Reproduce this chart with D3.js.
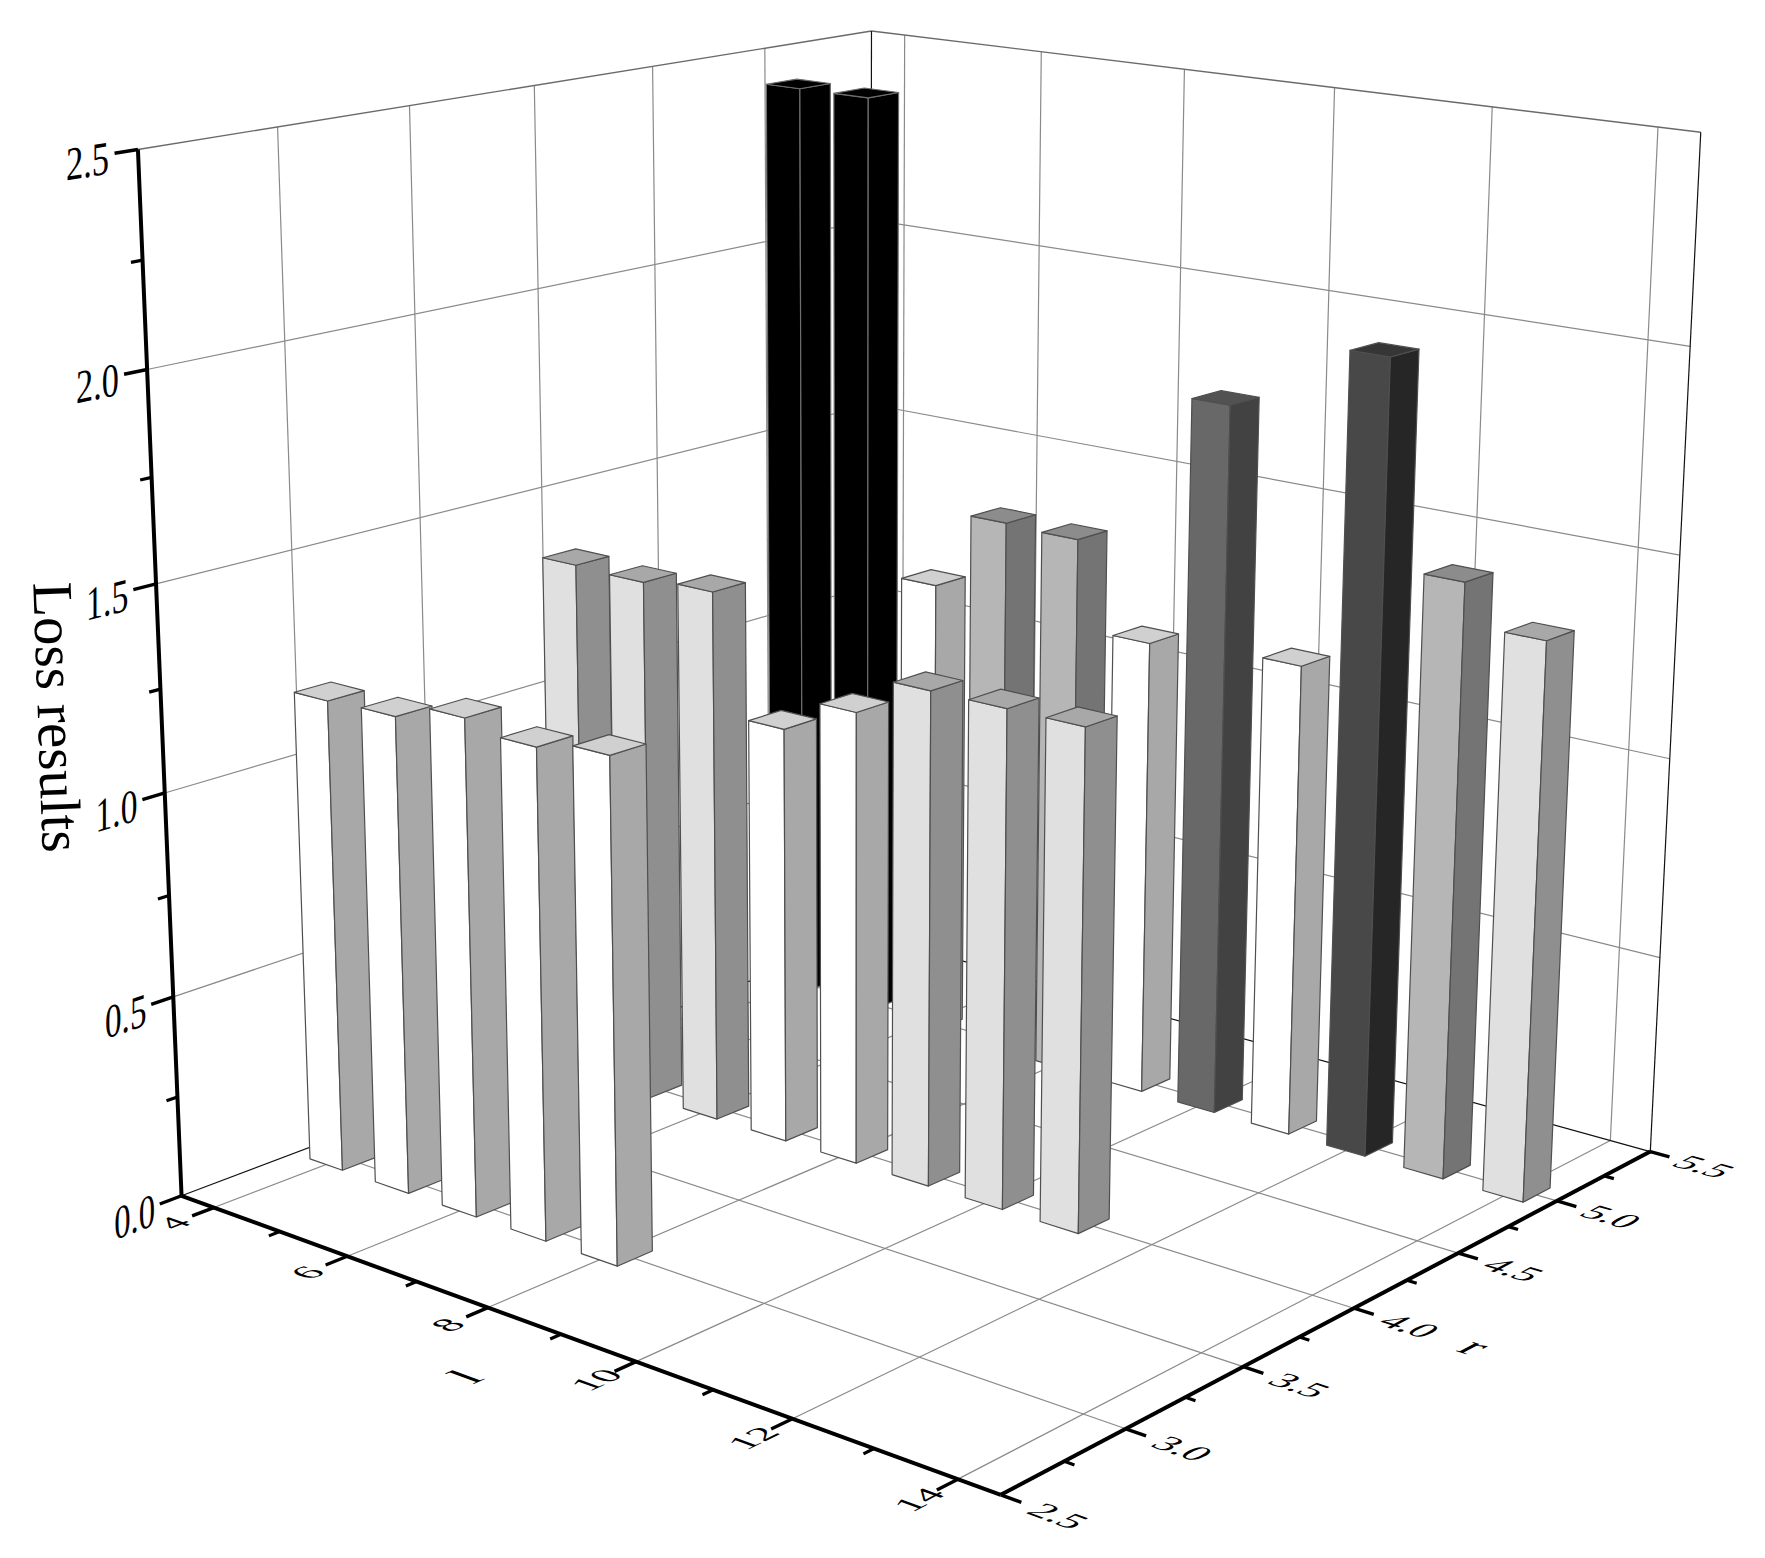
<!DOCTYPE html>
<html><head><meta charset="utf-8"><style>html,body{margin:0;background:#fff}svg{display:block}text{font-family:"Liberation Serif",serif;fill:#000}</style>
<script src="https://cdn.jsdelivr.net/npm/d3@7/dist/d3.min.js"></script></head><body><script>
// ---- data ----
const rowR3L = [4,5,6,7,8];
const rowR3V = [1.175,1.18,1.22,1.195,1.22];
const rowR4L = [4,5,6,7,8,9,10,11];
const rowR4V = [1.34,1.335,1.35,1.05,1.135,1.23,1.23,1.23];
const rowR5L = [4,5,6,7,8,9,10,11,12,13,14];
const rowR5V = [2.42,2.42,1.2,1.40,1.395,1.17,1.80,1.195,1.98,1.48,1.38];
const lTicks = [4,6,8,10,12,14], lMinor=[5,7,9,11,13];
const rTicks = [2.5,3,3.5,4,4.5,5,5.5], rMinor=[2.75,3.25,3.75,4.25,4.75,5.25];
const zTicks = [0,0.5,1,1.5,2,2.5], zMinor=[0.25,0.75,1.25,1.75,2.25];
const levelBreaks = [1.225,1.388,1.6,1.9,2.2];
const leftFill  = ["#ffffff","#e0e0e0","#b6b6b6","#686868","#484848","#000000"];
const rightFill = ["#a8a8a8","#8f8f8f","#747474","#424242","#262626","#000000"];
const topFill   = ["#d0d0d0","#a8a8a8","#8c8c8c","#525252","#363636","#000000"];
const W=1765,H=1558;
// ---- projective camera fitted to the frame of the box ----
const X=d3.scaleLinear([3.5,14.5],[0,1]),Y=d3.scaleLinear([2.5,5.5],[0,1]),Z=d3.scaleLinear([0,2.5],[0,1]);
const anchors=[[0,0,0,183,1195],[1,0,0,1003,1495],[1,1,0,1651,1152],[0,0,1,138,149],[0,1,1,872,31],[1,1,1,1700,132],
 [X(4),0,0,215,1206],[X(6),0,0,348,1255],[X(8),0,0,487,1307],[X(10),0,0,636,1362],[X(14),0,0,957,1480],
 [1,Y(3),0,1127,1428],[1,Y(3.5),0,1242,1367],[1,Y(4),0,1352,1308],[1,Y(4.5),0,1459,1253],[1,Y(5),0,1557,1201],
 [0,0,Z(2),149,369],[0,0,Z(1.5),157,584],[0,0,Z(1),161,794],[0,0,Z(.5),171,1000]];
function fit(pts){const n=11,A=Array.from({length:n},()=>Array(n+1).fill(0));
 const add=(r,b)=>{for(let i=0;i<n;i++){for(let j=0;j<n;j++)A[i][j]+=r[i]*r[j];A[i][n]+=r[i]*b;}};
 pts.forEach(([x,y,z,u,v])=>{u/=1000;v/=1000;add([x,y,z,1,0,0,0,0,-u*x,-u*y,-u*z],u);add([0,0,0,0,x,y,z,1,-v*x,-v*y,-v*z],v);});
 for(let i=0;i<n;i++){let p=i;for(let k=i+1;k<n;k++)if(Math.abs(A[k][i])>Math.abs(A[p][i]))p=k;[A[i],A[p]]=[A[p],A[i]];
  for(let k=0;k<n;k++)if(k!==i){const f=A[k][i]/A[i][i];for(let j=i;j<=n;j++)A[k][j]-=f*A[i][j];}}
 return A.map((r,i)=>r[n]/r[i]);}
const c=fit(anchors);
function proj(x,y,z){const w=c[8]*x+c[9]*y+c[10]*z+1;return [1000*(c[0]*x+c[1]*y+c[2]*z+c[3])/w,1000*(c[4]*x+c[5]*y+c[6]*z+c[7])/w];}
const svg=d3.select("body").append("svg").attr("width",W).attr("height",H).attr("viewBox",[0,0,W,H]);
const seg=(g,a,b,col,w)=>{const p=proj(...a),q=proj(...b);g.append("line").attr("x1",p[0]).attr("y1",p[1]).attr("x2",q[0]).attr("y2",q[1]).attr("stroke",col).attr("stroke-width",w).attr("stroke-linecap","butt");};
// gridlines
const grid=svg.append("g"),gc="#8a8a8a",gw=1.2;
lTicks.forEach(l=>{seg(grid,[X(l),0,0],[X(l),1,0],gc,gw);seg(grid,[X(l),1,0],[X(l),1,1],gc,gw);});
rTicks.slice(1,-1).forEach(r=>{seg(grid,[0,Y(r),0],[1,Y(r),0],gc,gw);seg(grid,[0,Y(r),0],[0,Y(r),1],gc,gw);});
zTicks.slice(1,-1).forEach(z=>{seg(grid,[0,0,Z(z)],[0,1,Z(z)],gc,gw);seg(grid,[0,1,Z(z)],[1,1,Z(z)],gc,gw);});
// frame
const fr=svg.append("g");
seg(fr,[0,0,1],[0,1,1],"#6a6a6a",1.4);seg(fr,[0,1,1],[1,1,1],"#6a6a6a",1.4);
seg(fr,[0,1,0],[0,1,1],"#111",1.2);seg(fr,[1,1,0],[1,1,1],"#111",1.2);
seg(fr,[0,0,0],[0,1,0],"#111",1.2);seg(fr,[0,1,0],[1,1,0],"#111",1.2);
// bars
const level=d3.scaleThreshold(levelBreaks,d3.range(6));
const bars=[].concat(rowR5L.map((l,i)=>({l,r:5,v:rowR5V[i]})),rowR4L.map((l,i)=>({l,r:4,v:rowR4V[i]})),rowR3L.map((l,i)=>({l,r:3,v:rowR3V[i]})));
const hl=0.25,hr=0.07;
const faces=b=>{const x0=X(b.l-hl),x1=X(b.l+hl),y0=Y(b.r-hr),y1=Y(b.r+hr),z=Z(b.v),k=level(b.v);return [
 {pts:[[x0,y0,0],[x1,y0,0],[x1,y0,z],[x0,y0,z]],f:leftFill[k],k},
 {pts:[[x1,y0,0],[x1,y1,0],[x1,y1,z],[x1,y0,z]],f:rightFill[k],k},
 {pts:[[x0,y0,z],[x1,y0,z],[x1,y1,z],[x0,y1,z]],f:topFill[k],k}];};
const gBars=svg.append("g").selectAll("g").data(bars).join("g");
gBars.selectAll("path").data(faces).join("path")
 .attr("d",d=>d3.line()(d.pts.map(p=>proj(...p)))+"Z").attr("fill",d=>d.f)
 .attr("stroke",d=>d.k===5?"#6e6e6e":"#4f4f4f").attr("stroke-width",1.2).attr("stroke-linejoin","round");
// axes
const ax=svg.append("g"),aw=4;
seg(ax,[0,0,0],[0,0,1],"#000",aw);seg(ax,[0,0,0],[1,0,0],"#000",aw);seg(ax,[1,0,0],[1,1,0],"#000",aw);
const T=0.027;
lTicks.forEach(l=>seg(ax,[X(l),0,0],[X(l),-T,0],"#000",3.4));lMinor.forEach(l=>seg(ax,[X(l),0,0],[X(l),-T/2,0],"#000",3.2));
rTicks.forEach(r=>seg(ax,[1,Y(r),0],[1+T*0.8,Y(r),0],"#000",3.4));rMinor.forEach(r=>seg(ax,[1,Y(r),0],[1+T*0.4,Y(r),0],"#000",3.2));
zTicks.forEach(z=>seg(ax,[0,0,Z(z)],[0,-T,Z(z)],"#000",3.4));zMinor.forEach(z=>seg(ax,[0,0,Z(z)],[0,-T/2,Z(z)],"#000",3.2));
// labels lie in the planes of the box
function unit(a,b){const p=proj(...a),q=proj(...b),dx=q[0]-p[0],dy=q[1]-p[1],m=Math.hypot(dx,dy);return [dx/m,dy/m];}
function lab(txt,at,u,v,su,sv,fs){const p=proj(...at);svg.append("text").text(txt).attr("text-anchor","middle").attr("dy","0.34em").attr("font-size",fs)
 .attr("transform",`matrix(${u[0]*su},${u[1]*su},${v[0]*sv},${v[1]*sv},${p[0]},${p[1]})`);}
const fmt=d3.format(".1f");
zTicks.forEach(z=>lab(fmt(z),[0,-0.058,Z(z)-0.003],unit([0,0,Z(z)],[0,1,Z(z)]),[0,1],1,1.35,35));
lTicks.forEach(l=>{lab(String(l),[X(l),-0.05,0],unit([X(l),0,0],[X(l),1,0]),unit([X(l),0,0],[X(l)+.1,0,0]),1,0.85,40);});
rTicks.forEach(r=>{lab(fmt(r),[1.06,Y(r),0],unit([1,Y(r),0],[1.1,Y(r),0]),unit([1,Y(r),0],[1,Y(r)-.1,0]),1,0.85,40);});
lab("l",[X(9),-0.118,0],unit([X(9),0,0],[X(9),1,0]),unit([X(9),0,0],[X(9)+.1,0,0]),1,0.85,52);
lab("r",[1.13,Y(4),0],unit([1,Y(4),0],[1.1,Y(4),0]),unit([1,Y(4),0],[1,Y(3.9),0]),1,0.85,50);
svg.append("text").text("Loss results").attr("text-anchor","middle").attr("font-size",57).attr("transform","translate(38,718) rotate(88)");
</script></body></html>
